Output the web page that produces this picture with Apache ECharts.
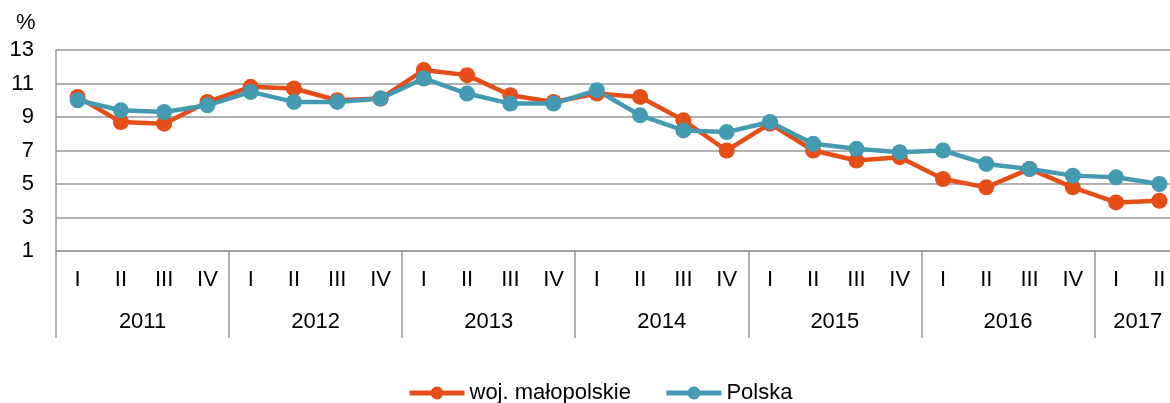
<!DOCTYPE html>
<html>
<head>
<meta charset="utf-8">
<script src="https://cdn.jsdelivr.net/npm/echarts@6/dist/echarts.min.js"></script>
<style>
  html, body { margin: 0; padding: 0; background: #fff; }
  #chart { width: 1170px; height: 403px; }
</style>
</head>
<body>
<div id="chart"></div>
<script>
const quarters = [
  'I', 'II', 'III', 'IV', 'I', 'II', 'III', 'IV', 'I', 'II', 'III', 'IV',
  'I', 'II', 'III', 'IV', 'I', 'II', 'III', 'IV', 'I', 'II', 'III', 'IV',
  'I', 'II'
]
const years = ['2011', '2012', '2013', '2014', '2015', '2016', '2017']
// position of each year label (in quarter units) and year separators
const yearCenters = [2, 6, 10, 14, 18, 22, 25]
const yearBreaks = [0, 4, 8, 12, 16, 20, 24, 26]

const malopolskie = [
  10.2, 8.7, 8.6, 9.9, 10.8, 10.7, 10.0, 10.1,
  11.8, 11.5, 10.3, 9.9, 10.4, 10.2, 8.8, 7.0,
  8.6, 7.0, 6.4, 6.6, 5.3, 4.8, 5.9, 4.8,
  3.9, 4.0
]
const polska = [
  10.0, 9.4, 9.3, 9.7, 10.5, 9.9, 9.9, 10.1,
  11.3, 10.4, 9.8, 9.8, 10.6, 9.1, 8.2, 8.1,
  8.7, 7.4, 7.1, 6.9, 7.0, 6.2, 5.9, 5.5,
  5.4, 5.0
]

const yTicks = { min: 1, max: 13, interval: 2 }

const chart = echarts.init(document.getElementById('chart'), null, { renderer: 'canvas' })

const font = 'Liberation Sans, Arial, sans-serif'
const gridColor = '#969696'
const fontSize = 22

const option = {
  animation: false,
  backgroundColor: '#fff',
  textStyle: { fontFamily: font, color: '#000' },
  title: {
    text: '%',
    left: 11,
    top: 7,
    textStyle: { fontSize: fontSize, fontWeight: 'normal', color: '#000', fontFamily: font }
  },
  // the plot runs a little past the right edge of the picture, as in the original
  grid: {
    left: 56,
    width: 1125,
    top: 50,
    bottom: 152,
    outerBoundsMode: 'none',
    containLabel: false
  },
  legend: {
    top: 377,
    left: 402,
    itemWidth: 55,
    itemHeight: 16,
    itemGap: 33,
    lineStyle: { width: 5 },
    textStyle: { fontSize: fontSize, color: '#000', fontFamily: font },
    data: ['woj. małopolskie', 'Polska']
  },
  xAxis: [
    {
      type: 'category',
      data: quarters,
      boundaryGap: true,
      axisLine: { show: true, lineStyle: { color: gridColor, width: 1.5 } },
      axisTick: { show: false },
      axisLabel: { interval: 0, fontSize: fontSize, color: '#000', margin: 18, fontFamily: font }
    },
    {
      type: 'value',
      position: 'bottom',
      min: 0,
      max: 26,
      axisLine: { show: false },
      splitLine: { show: false },
      axisTick: {
        show: true,
        length: 87,
        customValues: yearBreaks,
        lineStyle: { color: gridColor, width: 1.5 }
      },
      axisLabel: {
        fontSize: fontSize,
        color: '#000',
        margin: 60,
        fontFamily: font,
        customValues: yearCenters,
        formatter: (value) => years[yearCenters.indexOf(value)] || ''
      }
    }
  ],
  yAxis: {
    type: 'value',
    min: yTicks.min,
    max: yTicks.max,
    interval: yTicks.interval,
    axisLine: { show: true, lineStyle: { color: gridColor, width: 1.5 } },
    axisTick: { show: false },
    axisLabel: { fontSize: fontSize, color: '#000', margin: 22, fontFamily: font },
    splitLine: { show: true, lineStyle: { color: gridColor, width: 1.5 } }
  },
  series: [
    {
      name: 'woj. małopolskie',
      type: 'line',
      data: malopolskie,
      symbol: 'circle',
      symbolSize: 16,
      lineStyle: { width: 4.5, color: '#E64E17' },
      itemStyle: { color: '#E64E17' }
    },
    {
      name: 'Polska',
      type: 'line',
      data: polska,
      symbol: 'circle',
      symbolSize: 16,
      lineStyle: { width: 4.5, color: '#449BB1' },
      itemStyle: { color: '#449BB1' }
    }
  ]
}

chart.setOption(option)
</script>
</body>
</html>
